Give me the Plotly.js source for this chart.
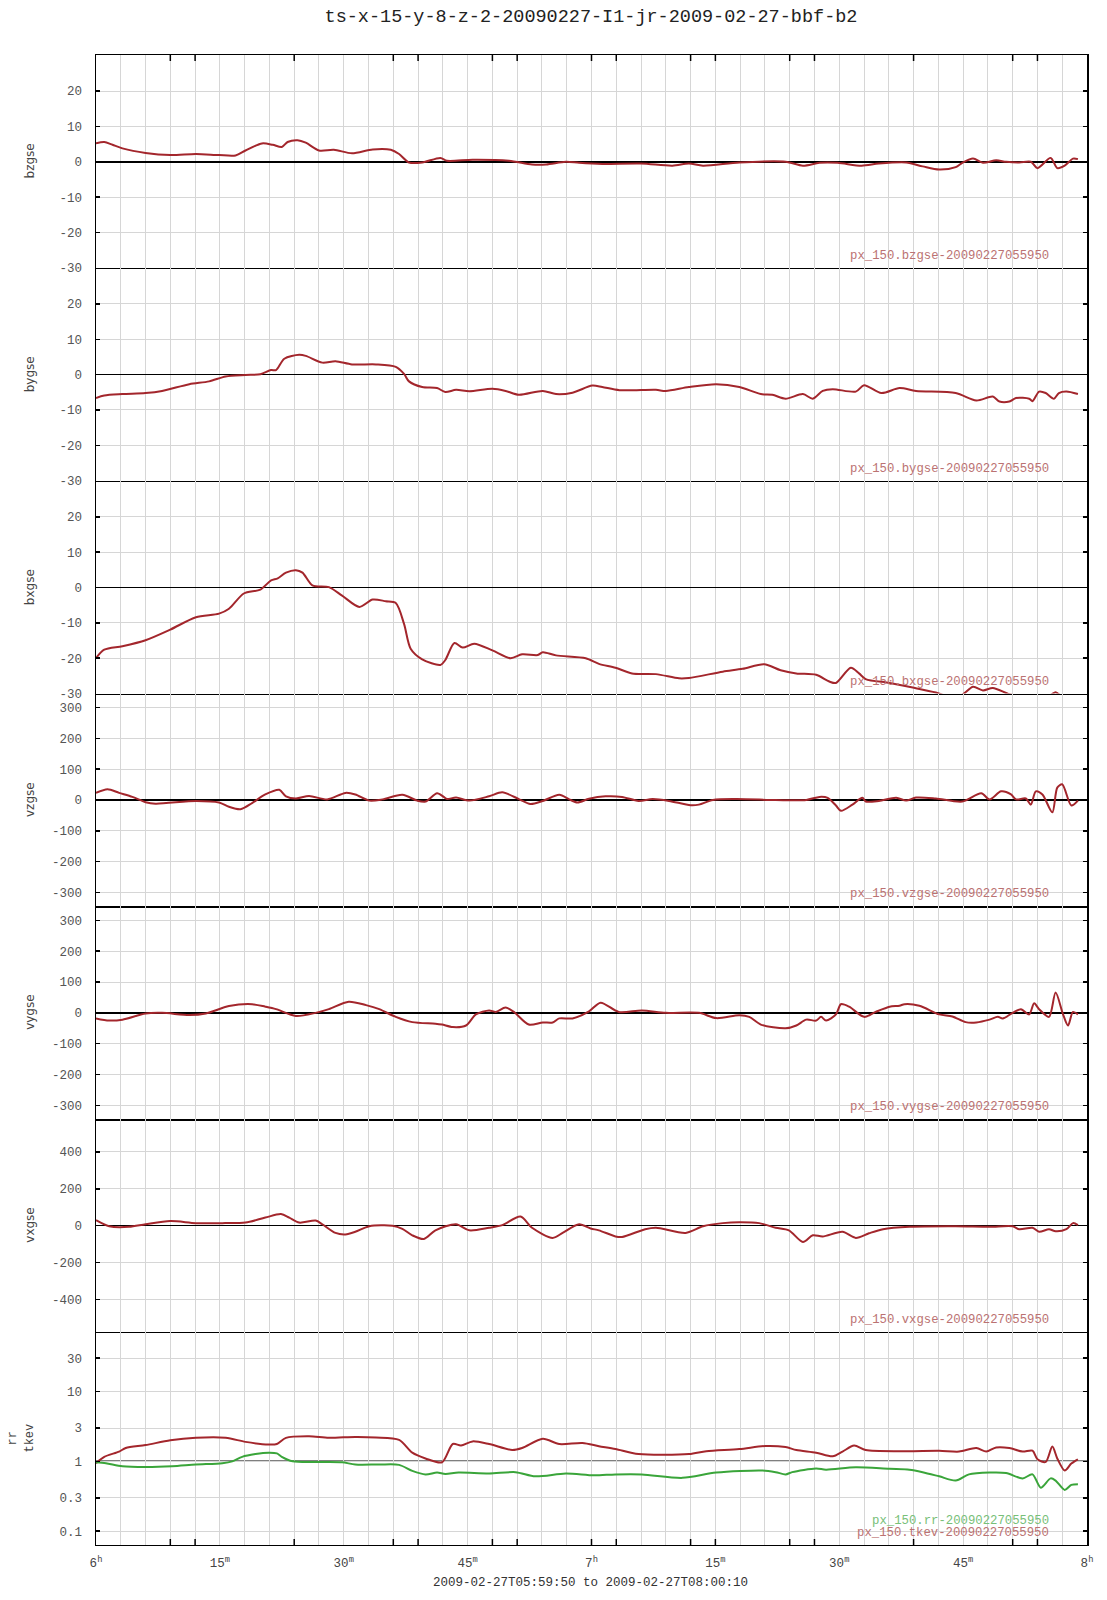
<!DOCTYPE html>
<html><head><meta charset="utf-8">
<script src="https://cdn.plot.ly/plotly-3.0.1.min.js"></script>
<style>body{margin:0;background:#fff}</style>
</head><body><div id="chart" style="width:1107px;height:1600px"></div>
<script>
// x values are minutes after 06:00 on 2009-02-27
const bzX = [0,1.0,2.0,3.2,6.0,9.0,12.1,14.9,16.9,18.1,20.1,21.4,22.5,23.2,24.4,25.4,27.0,28.8,31.0,33.5,35.7,36.7,37.9,39.5,41.7,42.5,45.6,50.0,52.8,54.5,56.9,58.5,61.3,66.0,69.8,71.8,73.5,77.9,83.5,85.6,87.6,89.8,92.7,94.8,98.1,100.1,102.1,104.1,104.9,106.2,107.4,109.0,110.2,111.8,113.2,114.0,115.6,116.4,117.3,118.3,118.9];
const bzY = [5.2,5.6,4.8,3.8,2.5,1.9,2.2,1.9,1.8,3.2,5.2,4.8,4.2,5.6,6.1,5.4,3.2,3.4,2.4,3.5,3.4,2.2,-0.2,-0.2,1.1,0.3,0.6,0.3,-0.75,-0.75,0,-0.3,-0.6,-0.5,-1.1,-0.5,-1.1,-0.2,0,-1.1,-0.3,-0.3,-1.1,-0.5,-0.2,-1.3,-2.2,-1.5,-0.3,0.9,-0.3,0.4,0,-0.2,0,-1.8,1.1,-1.8,-1.1,0.9,0.75];

const byX = [0,1.0,3.2,6.0,8.0,11.3,13.7,15.7,18.1,19.9,21.2,21.8,22.8,24.6,25.4,27.4,29.0,31.0,33.9,36.3,37.3,37.9,39.5,41.3,42.3,43.6,45.2,48.0,49.6,51.2,54.1,55.7,57.7,60.1,61.3,63.4,67.8,69.0,71.8,75.1,77.9,80.5,81.9,83.5,85.6,86.8,88.0,89.2,92.0,93.0,95.1,97.3,99.3,104.1,106.6,108.6,109.4,110.6,111.4,113.0,113.4,114.2,115.0,116.0,116.6,117.5,118.9];
const byY = [-6.6,-5.9,-5.5,-5.2,-4.6,-2.7,-1.9,-0.5,-0.1,0.1,1.3,1.3,4.5,5.6,5.3,3.4,3.8,2.9,2.9,2.2,0.2,-1.9,-3.5,-3.8,-4.9,-4.3,-4.7,-4.0,-4.6,-5.7,-4.6,-5.5,-5.1,-3.1,-3.5,-4.4,-4.3,-4.6,-3.5,-2.7,-3.5,-5.5,-5.7,-6.8,-5.5,-6.8,-4.6,-4.1,-4.8,-3.0,-5.2,-3.8,-4.6,-5.2,-7.3,-6.2,-7.6,-7.6,-6.6,-6.8,-7.5,-4.8,-5.2,-6.8,-5.2,-4.8,-5.5];

const bxX = [0,1.0,3.2,6.0,9.0,12.1,14.9,16.1,17.9,19.9,21.2,22.0,23.0,24.2,25.0,26.2,28.2,29.8,31.9,33.5,35.1,36.3,37.3,38.1,39.5,41.7,42.3,43.4,44.4,45.8,48.0,50.2,51.6,53.5,54.1,55.7,59.3,60.9,62.9,64.9,67.8,70.6,71.8,75.9,78.3,80.9,82.9,84.8,87.2,88.8,89.6,91.4,92.4,93.2,96.1,98.9,101.7,103.3,104.9,106.2,107.4,108.6,110.6,112.2,115.5,116.2,117.1,118.9];
const bxY = [-20.0,-17.6,-16.6,-14.9,-11.9,-8.4,-7.4,-6.0,-1.7,-0.6,2.0,2.6,4.2,4.9,4.2,0.6,0.1,-2.3,-5.5,-3.4,-3.9,-4.4,-10.3,-17.3,-20.3,-21.9,-20.5,-15.7,-17.0,-15.9,-17.8,-20.0,-18.9,-19.1,-18.3,-19.2,-20.0,-21.6,-22.7,-24.3,-24.5,-25.7,-25.6,-23.8,-23.0,-21.7,-23.4,-24.3,-24.7,-26.6,-27.0,-22.7,-24.3,-25.9,-27.0,-28.3,-29.7,-30.8,-30.3,-28.1,-29.1,-28.4,-30.2,-30.8,-30.5,-29.6,-31,-31];

const vzX = [0,1.4,2.8,4.4,6.0,7.2,12.1,14.9,16.1,17.5,18.9,20.5,22.2,23.0,24.2,25.8,28.0,30.2,31.4,33.1,34.7,37.1,38.9,39.9,41.3,42.1,42.5,43.6,45.2,47.6,49.2,51.2,52.6,54.1,56.1,57.3,58.3,59.7,61.7,63.7,65.7,67.4,69.4,72.0,73.0,74.7,77.5,82.3,86.0,87.6,88.6,89.6,90.2,91.6,92.8,93.2,94.8,96.9,98.1,99.3,101.7,104.9,107.2,108.2,109.6,110.8,111.4,112.6,113.2,113.8,114.6,115.8,116.4,117.0,118.1,118.9];
const vzY = [23,35,23,10,-7,-12,-3,-8,-22,-30,-10,18,33,12,5,13,2,23,18,-2,2,17,-2,-5,22,10,3,8,-2,12,25,3,-13,-3,17,2,-8,4,12,10,-3,3,-3,-17,-15,0,3,0,0,10,7,-18,-35,-15,7,-5,-3,7,-2,8,5,-5,22,2,28,18,2,5,-15,28,18,-40,40,51,-18,-2];

const vyX = [0,1.6,3.2,6.0,8.0,11.3,13.3,16.1,18.9,20.5,21.8,24.2,26.6,28.2,30.6,32.7,34.3,36.3,38.3,41.1,41.9,43.2,44.8,46.0,47.6,48.4,49.6,50.6,52.4,54.1,55.3,56.1,57.7,59.7,61.1,63.3,66.1,69.0,73.0,75.1,77.9,79.1,80.5,83.5,84.8,86.0,87.2,87.8,88.4,89.6,90.2,91.2,93.0,94.4,96.1,97.3,97.9,99.7,102.1,103.7,105.3,106.6,108.2,109.2,109.8,111.0,112.0,113.0,113.6,114.2,115.4,116.2,117.1,117.7,118.3,118.9];
const vyY = [-18,-25,-22,-2,0,-7,-2,22,28,20,12,-10,0,12,36,25,12,-13,-30,-35,-38,-46,-41,-5,8,3,17,3,-38,-31,-31,-18,-18,5,33,3,8,0,0,-17,-8,-13,-38,-50,-41,-22,-25,-13,-25,-5,28,20,-13,3,20,23,28,23,-5,-12,-30,-31,-22,-13,-18,0,12,-5,31,12,-13,66,-5,-41,3,-5];

const vxX = [0,1.6,4.0,6.0,9.0,12.1,15.3,18.1,20.5,22.4,23.4,24.6,26.6,27.4,29.0,30.2,31.4,33.1,35.9,37.1,38.3,39.7,41.1,43.6,45.2,47.6,49.2,51.4,52.8,55.3,56.5,58.5,59.9,60.9,62.9,63.7,66.5,67.8,71.4,73.5,75.9,77.9,80.3,82.3,83.9,85.6,86.8,88.0,90.4,92.0,93.6,95.3,98.5,104.1,108.2,111.0,111.8,113.4,114.2,115.4,116.2,117.5,118.3,118.9];
const vxY = [30,-3,-6,8,25,14,14,17,44,63,44,17,28,8,-39,-47,-33,-3,0,-17,-52,-72,-25,8,-25,-11,3,50,-11,-66,-39,8,-15,-25,-58,-61,-19,-11,-39,-3,14,19,14,-11,-25,-88,-52,-58,-33,-66,-41,-19,-6,-3,-6,-3,-19,-11,-33,-19,-30,-19,14,3];

const tkevX = [0,1.0,2.8,3.6,6.0,9.0,12.1,15.7,18.1,20.9,21.9,23.0,25.8,28.2,31.4,33.9,36.7,38.3,39.9,41.9,43.2,44.2,45.6,47.6,50.4,51.6,54.1,56.1,58.9,60.9,62.9,65.7,71.8,73.9,77.9,81.1,83.5,84.8,87.2,89.2,90.4,91.8,93.2,98.1,102.1,104.5,106.6,107.8,109.0,110.6,112.2,113.4,114.0,115.0,115.8,116.4,117.3,118.1,118.9];
const tkevY = [0.94,1.16,1.38,1.55,1.71,2.0,2.17,2.17,1.9,1.74,1.77,2.17,2.28,2.17,2.24,2.2,2.03,1.33,1.1,0.97,1.77,1.69,1.93,1.77,1.45,1.55,2.1,1.77,1.83,1.65,1.5,1.27,1.27,1.4,1.5,1.66,1.6,1.45,1.33,1.18,1.38,1.68,1.45,1.4,1.42,1.38,1.55,1.38,1.58,1.55,1.38,1.42,1.07,0.98,1.63,1.1,0.74,0.93,1.07];

const rrX = [0,1.2,3.2,6.0,9.2,12.1,15.3,16.5,17.7,19.3,20.9,21.9,22.5,23.8,27.4,29.8,31.4,34.3,36.7,38.3,39.9,41.3,42.3,43.9,47.6,50.8,53.2,56.9,60.3,62.9,66.1,71.0,75.1,80.7,82.3,83.5,84.3,87.2,88.4,92.0,96.1,98.5,100.1,102.1,104.1,105.7,108.2,110.2,112.2,113.4,114.4,115.6,116.2,117.3,118.1,118.9];
const rrY = [0.97,0.94,0.85,0.83,0.85,0.9,0.94,1.0,1.16,1.27,1.33,1.3,1.16,1.0,0.98,0.97,0.9,0.9,0.89,0.73,0.65,0.69,0.66,0.69,0.67,0.70,0.61,0.67,0.63,0.65,0.65,0.58,0.69,0.74,0.70,0.65,0.7,0.79,0.76,0.82,0.78,0.76,0.70,0.61,0.53,0.65,0.69,0.68,0.57,0.65,0.42,0.57,0.53,0.39,0.46,0.47];

const panelNames = ['bzgse','bygse','bxgse','vzgse','vygse','vxgse'];
const legendLabels = ['px_150.bzgse-20090227055950','px_150.bygse-20090227055950','px_150.bxgse-20090227055950','px_150.vzgse-20090227055950','px_150.vygse-20090227055950','px_150.vxgse-20090227055950'];
const rrLabel = 'px_150.rr-20090227055950';
const tkevLabel = 'px_150.tkev-20090227055950';
const bTickVals = [-30,-20,-10,0,10,20];
const bTickText = ['-30','-20','-10','0','10','20'];
const vTickVals = [-300,-200,-100,0,100,200,300];
const vTickText = ['-300','-200','-100','0','100','200','300'];
const vxTickVals = [-400,-200,0,200,400];
const vxTickText = ['-400','-200','0','200','400'];
const logTickVals = [0.1,0.3,1,3,10,30];
const logTickText = ['0.1','0.3','1','3','10','30'];
const xTickVals = [0,15,30,45,60,75,90,105,120];
const xTickText = ['6<sup>h</sup>','15<sup>m</sup>','30<sup>m</sup>','45<sup>m</sup>','7<sup>h</sup>','15<sup>m</sup>','30<sup>m</sup>','45<sup>m</sup>','8<sup>h</sup>'];
const tickMarkMinutes = [9,12,24,36,39,48,51,60,63,72,75,84,87,99,111,114];
const titleText = 'ts-x-15-y-8-z-2-20090227-I1-jr-2009-02-27-bbf-b2';
const rangeText = '2009-02-27T05:59:50 to 2009-02-27T08:00:10';

const RED = '#a3262c', GREEN = '#3aa53a';
const MONO = 'Liberation Mono, DejaVu Sans Mono, monospace';
const N = 7;

const series = [[bzX,bzY],[byX,byY],[bxX,bxY],[vzX,vzY],[vyX,vyY],[vxX,vxY]];
const traces = [];
series.forEach((s,i)=>{
  traces.push({x:s[0], y:s[1], xaxis:'x'+(i+1), yaxis:'y'+(i+1), type:'scatter', mode:'lines',
    line:{color:RED, width:2, shape:'spline', smoothing:0.8}, hoverinfo:'skip', showlegend:false});
});
traces.push({x:tkevX, y:tkevY, xaxis:'x7', yaxis:'y7', type:'scatter', mode:'lines',
  line:{color:RED, width:2, shape:'spline', smoothing:0.8}, showlegend:false});
traces.push({x:rrX, y:rrY, xaxis:'x7', yaxis:'y7', type:'scatter', mode:'lines',
  line:{color:GREEN, width:2, shape:'spline', smoothing:0.8}, showlegend:false});

const layout = {
  width:1107, height:1600,
  margin:{l:96, r:20, t:55, b:55},
  paper_bgcolor:'#fff', plot_bgcolor:'#fff',
  showlegend:false,
  title:{text:titleText, x:591/1107, xanchor:'center', xref:'container', y:1-16/1600, yanchor:'middle', yref:'container',
    font:{family:MONO, size:18.5, color:'#222'}},
  annotations:[], shapes:[]
};
const yRanges = [[-30,30.2],[-30,30.2],[-30,30.2],[-345,345],[-345,345],[-576,576],[-1.198,1.85]];
const yTicks = [[bTickVals,bTickText],[bTickVals,bTickText],[bTickVals,bTickText],[vTickVals,vTickText],[vTickVals,vTickText],[vxTickVals,vxTickText],[logTickVals,logTickText]];
for (let i=0;i<N;i++){
  const top = 1 - i/N, bot = 1 - (i+1)/N;
  const k = i+1;
  layout['xaxis'+k] = {
    domain:[0,1], anchor:'y'+k, range:[0,120], matches: i>0 ? 'x' : undefined,
    tickmode:'array', tickvals:xTickVals, ticktext:xTickText,
    showticklabels: i===N-1, ticks:'', ticklabelstandoff:6,
    tickfont:{family:MONO, size:12.5, color:'#444'},
    showgrid:true, gridcolor:'#d6d6d6', gridwidth:1,
    minor:{dtick:3, tick0:0, showgrid:true, gridcolor:'#d6d6d6', gridwidth:1, ticks:''},
    showline:true, mirror: i===0, linecolor:'#000', linewidth:1.3, zeroline:false
  };
  const isLog = i===N-1;
  layout['yaxis'+k] = {
    domain:[bot, top], anchor:'x'+k, range:yRanges[i], type: isLog ? 'log' : 'linear',
    tickmode:'array', tickvals:yTicks[i][0], ticktext:yTicks[i][1],
    ticks:'inside', ticklen:4, tickwidth:1.5, tickcolor:'#000', ticklabelstandoff:10,
    tickfont:{family:MONO, size:12.5, color:'#555'},
    showgrid:true, gridcolor:'#d6d6d6', gridwidth:1,
    zeroline:!isLog, zerolinecolor:'#000', zerolinewidth:1.5,
    showline:true, mirror:'ticks', linecolor:'#000', linewidth:1.5
  };
  if (i < 6) {
    layout.annotations.push({text:panelNames[i], xref:'paper', yref:'y'+k+' domain', x:(30-96)/991, y:0.5,
      textangle:-90, showarrow:false, xanchor:'center', yanchor:'middle', font:{family:'DejaVu Sans, sans-serif', size:12, color:'#444'}});
    layout.annotations.push({text:legendLabels[i], xref:'paper', yref:'y'+k+' domain', x:(1051-96)/991, y:12/212.86,
      showarrow:false, xanchor:'right', yanchor:'middle', font:{family:MONO, size:12.3, color:'#bb7272'}});
  }
}
layout.annotations.push({text:'rr', xref:'paper', yref:'y7 domain', x:(13-96)/991, y:0.5, textangle:-90, showarrow:false,
  xanchor:'center', yanchor:'middle', font:{family:MONO, size:12, color:'#444'}});
layout.annotations.push({text:'tkev', xref:'paper', yref:'y7 domain', x:(30-96)/991, y:0.5, textangle:-90, showarrow:false,
  xanchor:'center', yanchor:'middle', font:{family:MONO, size:12, color:'#444'}});
layout.annotations.push({text:rrLabel, xref:'paper', yref:'y7 domain', x:(1051-96)/991, y:24.5/212.86, showarrow:false,
  xanchor:'right', yanchor:'middle', font:{family:MONO, size:12.3, color:'#78c078'}});
layout.annotations.push({text:tkevLabel, xref:'paper', yref:'y7 domain', x:(1051-96)/991, y:11.6/212.86, showarrow:false,
  xanchor:'right', yanchor:'middle', font:{family:MONO, size:12.3, color:'#bb7272'}});
layout.annotations.push({text:rangeText, xref:'paper', yref:'paper', x:(590-96)/991, y:(1545-1583)/1490, showarrow:false,
  xanchor:'center', yanchor:'middle', font:{family:MONO, size:12.5, color:'#333'}});
// unity line on the log panel
layout.shapes.push({type:'line', xref:'x7 domain', yref:'y7', x0:0, x1:1, y0:1, y1:1, line:{color:'#000', width:1.5}, layer:'below'});
// time tick marks on top and bottom frame
tickMarkMinutes.forEach(m=>{
  layout.shapes.push({type:'line', xref:'x', yref:'paper', ysizemode:'pixel', yanchor:1, x0:m, x1:m, y0:0, y1:-6, line:{color:'#000', width:1.5}});
  layout.shapes.push({type:'line', xref:'x7', yref:'paper', ysizemode:'pixel', yanchor:0, x0:m, x1:m, y0:0, y1:6, line:{color:'#000', width:1.5}});
});
Plotly.newPlot('chart', traces, layout, {displayModeBar:false, staticPlot:true});
</script>
</body></html>
